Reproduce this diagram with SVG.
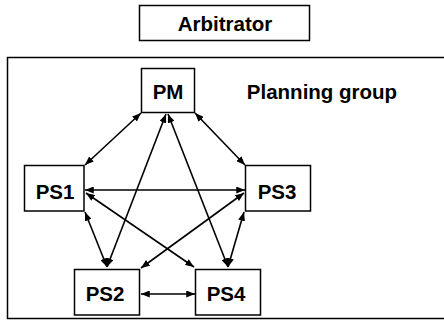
<svg xmlns="http://www.w3.org/2000/svg" width="444" height="320" viewBox="0 0 444 320">
<defs>
<style>
.box{fill:#fff;stroke:#000;stroke-width:1.5}
.lbl{font-family:"Liberation Sans",Arial,sans-serif;font-weight:bold;font-size:20.5px;fill:#000;text-anchor:middle}
.c{stroke:#000;stroke-width:1.6;fill:none;marker-start:url(#ah);marker-end:url(#ah)}
</style>
<marker id="ah" viewBox="0 0 10 8" refX="10" refY="4" markerWidth="9" markerHeight="7" markerUnits="userSpaceOnUse" orient="auto-start-reverse">
<path d="M0,0 L10,4 L0,8 z" fill="#000"/>
</marker>
</defs>
<rect width="444" height="320" fill="#fff"/>
<g id="arbitrator">
<rect class="box" x="139.5" y="5.5" width="170" height="35"/>
<text class="lbl" x="225" y="31">Arbitrator</text>
</g>
<g id="planning-group">
<rect class="box" x="7.5" y="57.5" width="440" height="261" fill="none"/>
<text class="lbl" x="322" y="99">Planning group</text>
</g>
<g id="connectors">
<line class="c" x1="141" y1="113" x2="85" y2="165"/>
<line class="c" x1="195" y1="113" x2="245" y2="165"/>
<line class="c" x1="85" y1="190" x2="245" y2="190"/>
<line class="c" x1="166" y1="114" x2="107" y2="267"/>
<line class="c" x1="168" y1="114" x2="228" y2="267"/>
<line class="c" x1="86" y1="193" x2="194" y2="267"/>
<line class="c" x1="244" y1="193" x2="141" y2="268"/>
<line class="c" x1="85" y1="212" x2="107" y2="267"/>
<line class="c" x1="244" y1="212" x2="228" y2="267"/>
<line class="c" x1="141" y1="294" x2="195" y2="294"/>
</g>
<g id="PM">
<rect class="box" x="141.5" y="68.5" width="53" height="44"/>
<text class="lbl" x="168" y="99">PM</text>
</g>
<g id="PS1">
<rect class="box" x="24.5" y="165.5" width="59.5" height="45.5"/>
<text class="lbl" x="55" y="199">PS1</text>
</g>
<g id="PS3">
<rect class="box" x="245.5" y="165.5" width="65" height="45.5"/>
<text class="lbl" x="277" y="199">PS3</text>
</g>
<g id="PS2">
<rect class="box" x="74.5" y="269.5" width="65" height="45.5"/>
<text class="lbl" x="105" y="301">PS2</text>
</g>
<g id="PS4">
<rect class="box" x="195.5" y="269.5" width="65" height="45.5"/>
<text class="lbl" x="226" y="301">PS4</text>
</g>
</svg>
